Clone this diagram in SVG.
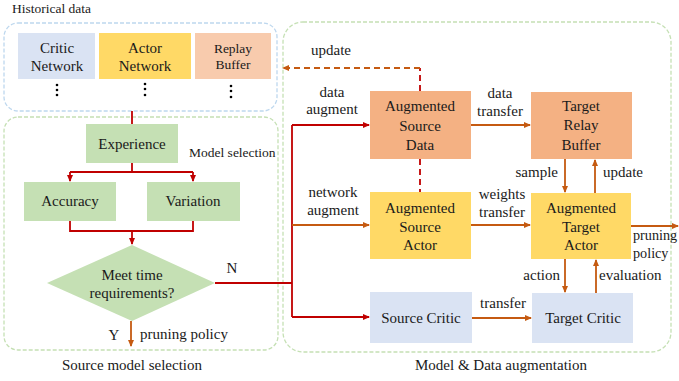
<svg xmlns="http://www.w3.org/2000/svg" width="679" height="381" viewBox="0 0 679 381">
<style>
text{font-family:"Liberation Serif","Times New Roman",serif;fill:#1a1a1a;font-size:15px}
.c{text-anchor:middle}
.s{font-size:13.5px}
.blue{fill:#dae3f3}
.yel{fill:#ffd966}
.org{fill:#f4b183}
.grn{fill:#c5e0b4}
.red{stroke:#c00000;stroke-width:1.8;fill:none}
.ora{stroke:#c55a11;stroke-width:1.8;fill:none}
.ra{marker-end:url(#ar)}
.oa{marker-end:url(#ao)}
</style>
<defs>
<marker id="ar" markerWidth="8" markerHeight="8" refX="6" refY="4" orient="auto" markerUnits="userSpaceOnUse"><path d="M0,1 L7,4 L0,7 Z" fill="#c00000"/></marker>
<marker id="ao" markerWidth="8" markerHeight="8" refX="6" refY="4" orient="auto" markerUnits="userSpaceOnUse"><path d="M0,1 L7,4 L0,7 Z" fill="#c55a11"/></marker>
</defs>
<rect width="679" height="381" fill="#ffffff"/>

<g id="historical-data">
<rect x="4" y="23" width="273" height="88" rx="14" fill="none" stroke="#bdd7ee" stroke-width="1.3" stroke-dasharray="4,2"/>
<text x="12" y="13" class="s">Historical data</text>
</g>
<g id="source-model-selection">
<rect x="4" y="117" width="274" height="233" rx="14" fill="none" stroke="#c5e0b4" stroke-width="1.3" stroke-dasharray="4,2"/>
<text x="132" y="370" class="c">Source model selection</text>
<text x="189" y="157" class="s">Model selection</text>
</g>
<g id="model-data-augmentation">
<rect x="283" y="22" width="388" height="330" rx="20" fill="none" stroke="#c5e0b4" stroke-width="1.3" stroke-dasharray="4,2"/>
<text x="501" y="370" class="c">Model &amp; Data augmentation</text>
</g>

<g id="critic-network">
<rect x="18" y="33" width="77" height="46" class="blue"/>
<text x="57" y="53" class="c">Critic</text>
<text x="57" y="71" class="c">Network</text>
<circle cx="57" cy="85" r="1.3" fill="#000"/><circle cx="57" cy="90" r="1.3" fill="#000"/><circle cx="57" cy="95" r="1.3" fill="#000"/>
</g>
<g id="actor-network">
<rect x="99" y="33" width="92" height="46" class="yel"/>
<text x="145" y="53" class="c">Actor</text>
<text x="145" y="71" class="c">Network</text>
<circle cx="145" cy="84" r="1.3" fill="#000"/><circle cx="145" cy="89" r="1.3" fill="#000"/><circle cx="145" cy="95" r="1.3" fill="#000"/>
</g>
<g id="replay-buffer">
<rect x="195" y="33" width="76" height="46" fill="#f8cbad"/>
<text x="233" y="53" class="c s">Replay</text>
<text x="233" y="69" class="c s">Buffer</text>
<circle cx="231" cy="86" r="1.3" fill="#000"/><circle cx="231" cy="91" r="1.3" fill="#000"/><circle cx="231" cy="97" r="1.3" fill="#000"/>
</g>

<g id="experience">
<rect x="86" y="124" width="92" height="39" class="grn"/>
<text x="132" y="149" class="c">Experience</text>
</g>
<g id="accuracy">
<rect x="24" y="182" width="92" height="39" class="grn"/>
<text x="70" y="206" class="c">Accuracy</text>
</g>
<g id="variation">
<rect x="147" y="182" width="93" height="39" class="grn"/>
<text x="193" y="206" class="c">Variation</text>
</g>
<g id="meet-time">
<polygon points="132,245 215,283 132,321 47,283" class="grn"/>
<text x="132" y="280" class="c">Meet time</text>
<text x="132" y="298" class="c">requirements?</text>
</g>

<g id="aug-source-data">
<rect x="370" y="91" width="101" height="68" class="org"/>
<text x="420" y="111" class="c">Augmented</text>
<text x="420" y="131" class="c">Source</text>
<text x="420" y="150" class="c">Data</text>
</g>
<g id="aug-source-actor">
<rect x="370" y="192" width="101" height="67" class="yel"/>
<text x="420" y="213" class="c">Augmented</text>
<text x="420" y="232" class="c">Source</text>
<text x="420" y="250" class="c">Actor</text>
</g>
<g id="source-critic">
<rect x="370" y="292" width="102" height="51" class="blue"/>
<text x="421" y="323" class="c">Source Critic</text>
</g>
<g id="target-relay-buffer">
<rect x="531" y="92" width="101" height="67" class="org"/>
<text x="581" y="111" class="c">Target</text>
<text x="581" y="130" class="c">Relay</text>
<text x="581" y="150" class="c">Buffer</text>
</g>
<g id="aug-target-actor">
<rect x="531" y="193" width="100" height="66" class="yel"/>
<text x="581" y="213" class="c">Augmented</text>
<text x="581" y="232" class="c">Target</text>
<text x="581" y="250" class="c">Actor</text>
</g>
<g id="target-critic">
<rect x="532" y="293" width="101" height="50" class="blue"/>
<text x="583" y="323" class="c">Target Critic</text>
</g>

<g id="connectors">
<path d="M132,111 V124" class="red"/>
<path d="M132,163 V172 M70,172 H193" class="red"/>
<path d="M70,172 V181" class="red ra"/>
<path d="M193,172 V181" class="red ra"/>
<path d="M70,221 V231 H193 V221" class="red"/>
<path d="M132,231 V244" class="red ra"/>
<path d="M215,283 H292 M292,125 V317" class="red"/>
<path d="M292,125 H369" class="red ra"/>
<path d="M292,225 H369" class="ora oa"/>
<path d="M292,317 H369" class="red ra"/>
<path d="M131,321 V346" class="ora oa"/>
<path d="M420,91 V68" class="red" stroke-dasharray="6,4"/>
<path d="M420,159 V192" class="red" stroke-dasharray="6,4"/>
<path d="M420,68 H283" class="ora oa" stroke-dasharray="6,4"/>
<path d="M471,125 H530" class="ora oa"/>
<path d="M471,225 H530" class="ora oa"/>
<path d="M472,318 H531" class="ora oa"/>
<path d="M565,159 V192" class="ora oa"/>
<path d="M595,193 V160" class="ora oa"/>
<path d="M565,259 V292" class="ora oa"/>
<path d="M596,293 V260" class="ora oa"/>
<path d="M631,226 H678" class="ora oa"/>
<text x="232" y="273" class="c">N</text>
<text x="114" y="340" class="c">Y</text>
<text x="140" y="339">pruning policy</text>
<text x="331" y="55" class="c">update</text>
<text x="332" y="97" class="c">data</text>
<text x="332" y="114" class="c">augment</text>
<text x="333" y="197" class="c">network</text>
<text x="333" y="215" class="c">augment</text>
<text x="500" y="98" class="c">data</text>
<text x="500" y="116" class="c">transfer</text>
<text x="502" y="199" class="c">weights</text>
<text x="502" y="217" class="c">transfer</text>
<text x="503" y="308" class="c">transfer</text>
<text x="558" y="177" text-anchor="end">sample</text>
<text x="603" y="177">update</text>
<text x="560" y="280" text-anchor="end">action</text>
<text x="599" y="280">evaluation</text>
<text x="633" y="240" style="font-size:14.2px">pruning</text>
<text x="633" y="258" style="font-size:14.2px">policy</text>
</g>
</svg>
